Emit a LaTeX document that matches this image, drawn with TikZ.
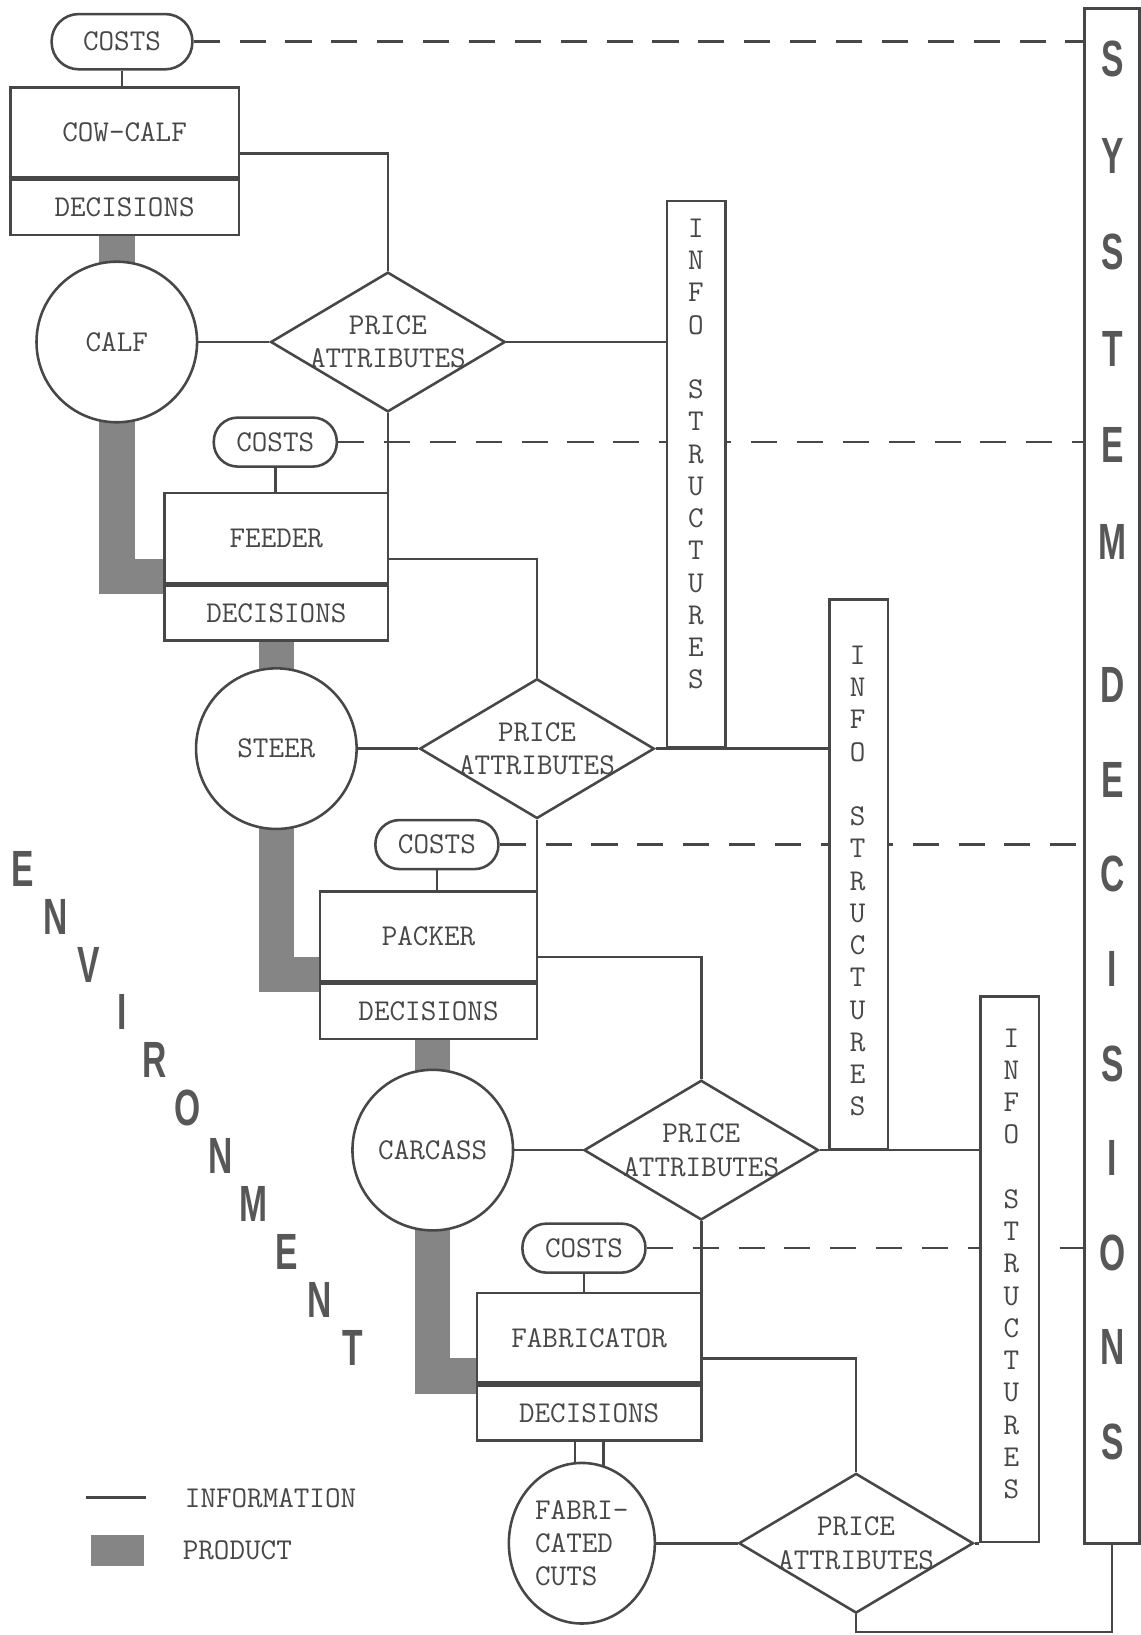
\documentclass[tikz,border=0pt]{standalone}
\usepackage{fontspec}
\newfontfamily\bigsans{Liberation Sans}
\usepackage{xcolor}
\usepackage{tikz}
\usetikzlibrary{positioning,shapes.geometric,backgrounds}

\definecolor{ink}{gray}{0.28}
\definecolor{prodgray}{gray}{0.52}
\newcommand{\boxfont}{\fontsize{16.5}{18.2}\selectfont\ttfamily}
\newcommand{\infoletters}{I\\N\\F\\O\\[0.62cm]S\\T\\R\\U\\C\\T\\U\\R\\E\\S}

\begin{document}
\begin{tikzpicture}[
  every node/.style={text=ink},
  stagebox/.style={draw=ink, line width=1.4pt, fill=white, minimum width=4.3cm, minimum height=1.72cm, inner sep=0pt, font=\boxfont},
  decbox/.style={stagebox, minimum height=1.06cm},
  costpill/.style={draw=ink, line width=1.4pt, fill=white, rounded corners=0.46cm, minimum width=2.36cm, minimum height=0.94cm, font=\boxfont},
  goods/.style={circle, draw=ink, line width=1.4pt, fill=white, minimum size=3.08cm, inner sep=0pt, align=center, font=\boxfont},
  pricebox/.style={diamond, draw=ink, line width=1.4pt, fill=white, minimum width=4.5cm, minimum height=2.68cm, inner sep=0pt,
    label={[font=\boxfont, align=center, text=ink]center:PRICE\\ATTRIBUTES}},
  infocol/.style={draw=ink, line width=1.4pt, fill=white, minimum width=1.12cm, anchor=south},
  infotext/.style={font=\fontsize{16.5}{17.6}\selectfont\ttfamily, align=center, inner sep=0pt},
  infoline/.style={draw=ink, line width=1.4pt},
  costline/.style={draw=ink, line width=1.4pt, dash pattern=on 0.5cm off 0.38cm},
  productbar/.style={draw=prodgray, line width=0.68cm},
  hollowbar/.style={draw=ink, line width=1.4pt, double=white, double distance=0.5cm},
  bigletter/.style={font=\bigsans\bfseries\fontsize{27.8}{30}\selectfont, text=black!66, xscale=0.66, inner sep=0pt}
]
  \useasboundingbox (0,0) rectangle (21.88,31.36);

  % cow-calf stage
  \node[costpill, minimum width=2.7cm, minimum height=1.06cm, rounded corners=0.52cm] (costs1) at (2.34,30.56) {COSTS};
  \node[stagebox, minimum width=4.38cm] (cowcalf) at (2.39,28.82) {COW-CALF};
  \node[decbox, minimum width=4.38cm, below=0pt of cowcalf] (cowcalfdec) {DECISIONS};
  \node[goods] (calf) at (2.24,24.8) {CALF};
  \node[pricebox] (pa1) at (7.44,24.8) {};

  % feeder stage
  \node[costpill] (costs2) at (5.28,22.88) {COSTS};
  \node[stagebox, minimum width=4.28cm] (feeder) at (5.3,21.04) {FEEDER};
  \node[decbox, minimum width=4.28cm, below=0pt of feeder] (feederdec) {DECISIONS};
  \node[goods] (steer) at (5.3,17.0) {STEER};
  \node[pricebox] (pa2) at (10.3,17.0) {};

  % packer stage
  \node[costpill] (costs3) at (8.38,15.16) {COSTS};
  \node[stagebox, minimum width=4.16cm] (packer) at (8.22,13.4) {PACKER};
  \node[decbox, minimum width=4.16cm, below=0pt of packer] (packerdec) {DECISIONS};
  \node[goods] (carcass) at (8.3,9.3) {CARCASS};
  \node[pricebox] (pa3) at (13.45,9.3) {};

  % fabricator stage
  \node[costpill] (costs4) at (11.2,7.42) {COSTS};
  \node[stagebox] (fabricator) at (11.3,5.7) {FABRICATOR};
  \node[decbox, below=0pt of fabricator] (fabricatordec) {DECISIONS};
  \node[goods, ellipse, minimum width=2.8cm, minimum height=3.08cm, align=left] (cuts) at (11.16,1.76) {FABRI-\\CATED\\CUTS};
  \node[pricebox] (pa4) at (16.42,1.76) {};

  % info structures
  \node[infocol, minimum height=10.48cm] (info1) at (13.35,17.0) {};
  \node[infotext] (info1txt) at (13.35,22.65) {\infoletters};
  \node[infocol, minimum height=10.54cm] (info2) at (16.47,9.3) {};
  \node[infotext] (info2txt) at (16.45,14.46) {\infoletters};
  \node[infocol, minimum height=10.46cm] (info3) at (19.37,1.76) {};
  \node[infotext] (info3txt) at (19.4,7.12) {\infoletters};

  % system decisions
  \node[draw=ink, line width=1.4pt, fill=white, minimum width=1.06cm, minimum height=29.44cm] (sysdec) at (21.33,16.48) {};
  \foreach \l [count=\i] in {S,Y,S,T,E,M}
    \node[bigletter] (sys\i) at (21.34,{30.22-1.85*(\i-1)}) {\l};
  \foreach \l [count=\i] in {D,E,C,I,S,I,O,N,S}
    \node[bigletter] (dec\i) at (21.34,{18.22-1.815*(\i-1)}) {\l};

  % environment
  \foreach \l [count=\i from 0] in {E,N,V,I,R,O,N,M,E,N,T}
    \node[bigletter] (env\i) at ({0.44+0.632*\i},{14.7-0.92*\i}) {\l};

  % information links
  \draw[infoline] (costs1) -- (costs1 |- cowcalf.north);
  \draw[infoline] ([yshift=-0.4cm]cowcalf.east) -| (pa1.north);
  \draw[infoline] (calf) -- (pa1);
  \draw[infoline] (pa1) -- (pa1 -| info1.west);
  \draw[infoline] (pa1.south) -- (pa1.south |- feeder.north);
  \draw[infoline] (costs2) -- (costs2 |- feeder.north);
  \draw[infoline] ([yshift=-0.4cm]feeder.east) -| (pa2.north);
  \draw[infoline] (steer) -- (pa2);
  \draw[infoline] (pa2) -- (pa2 -| info2.west);
  \draw[infoline] (pa2.south) -- (pa2.south |- packer.north);
  \draw[infoline] (costs3) -- (costs3 |- packer.north);
  \draw[infoline] ([yshift=-0.4cm]packer.east) -| (pa3.north);
  \draw[infoline] (carcass) -- (pa3);
  \draw[infoline] (pa3) -- (pa3 -| info3.west);
  \draw[infoline] (pa3.south) -- (pa3.south |- fabricator.north);
  \draw[infoline] (costs4) -- (costs4 |- fabricator.north);
  \draw[infoline] ([yshift=-0.4cm]fabricator.east) -| (pa4.north);
  \draw[infoline] (cuts) -- (pa4);
  \draw[infoline] (pa4) -- (info3.south west);
  \draw[infoline] (pa4.south) -- ++(0,-0.34) -| (sysdec.south);

  % legend
  \coordinate (legA) at (1.64,2.64);
  \coordinate (legB) at (2.8,2.64);
  \draw[infoline] (legA) -- (legB);
  \node[font=\boxfont, anchor=west, inner sep=0pt] (leginfo) at (3.54,2.62) {INFORMATION};
  \node[fill=prodgray, minimum width=1.02cm, minimum height=0.6cm, inner sep=0pt] (legprod) at (2.25,1.62) {};
  \node[font=\boxfont, anchor=west, inner sep=0pt] (legprodtxt) at (3.5,1.62) {PRODUCT};

  \begin{scope}[on background layer]
    % cost lines to system decisions
    \draw[costline] (costs1) -- (costs1 -| sysdec.west);
    \draw[costline] (costs2) -- (costs2 -| sysdec.west);
    \draw[costline] (costs3) -- (costs3 -| sysdec.west);
    \draw[costline] (costs4) -- (costs4 -| sysdec.west);
    % product flow
    \draw[productbar] (cowcalfdec.south -| calf) -- (calf.center);
    \draw[productbar] (calf.center) |- ([yshift=0.15cm]feeder.south west);
    \draw[productbar] (feederdec.south -| steer) -- (steer.center);
    \draw[productbar] (steer.center) |- ([yshift=0.15cm]packer.south west);
    \draw[productbar] (packerdec.south -| carcass) -- (carcass.center);
    \draw[productbar] (carcass.center) |- ([yshift=0.15cm]fabricator.south west);
    \draw[hollowbar] (fabricatordec.south) -- (fabricatordec.south |- cuts.center);
  \end{scope}
\end{tikzpicture}
\end{document}
